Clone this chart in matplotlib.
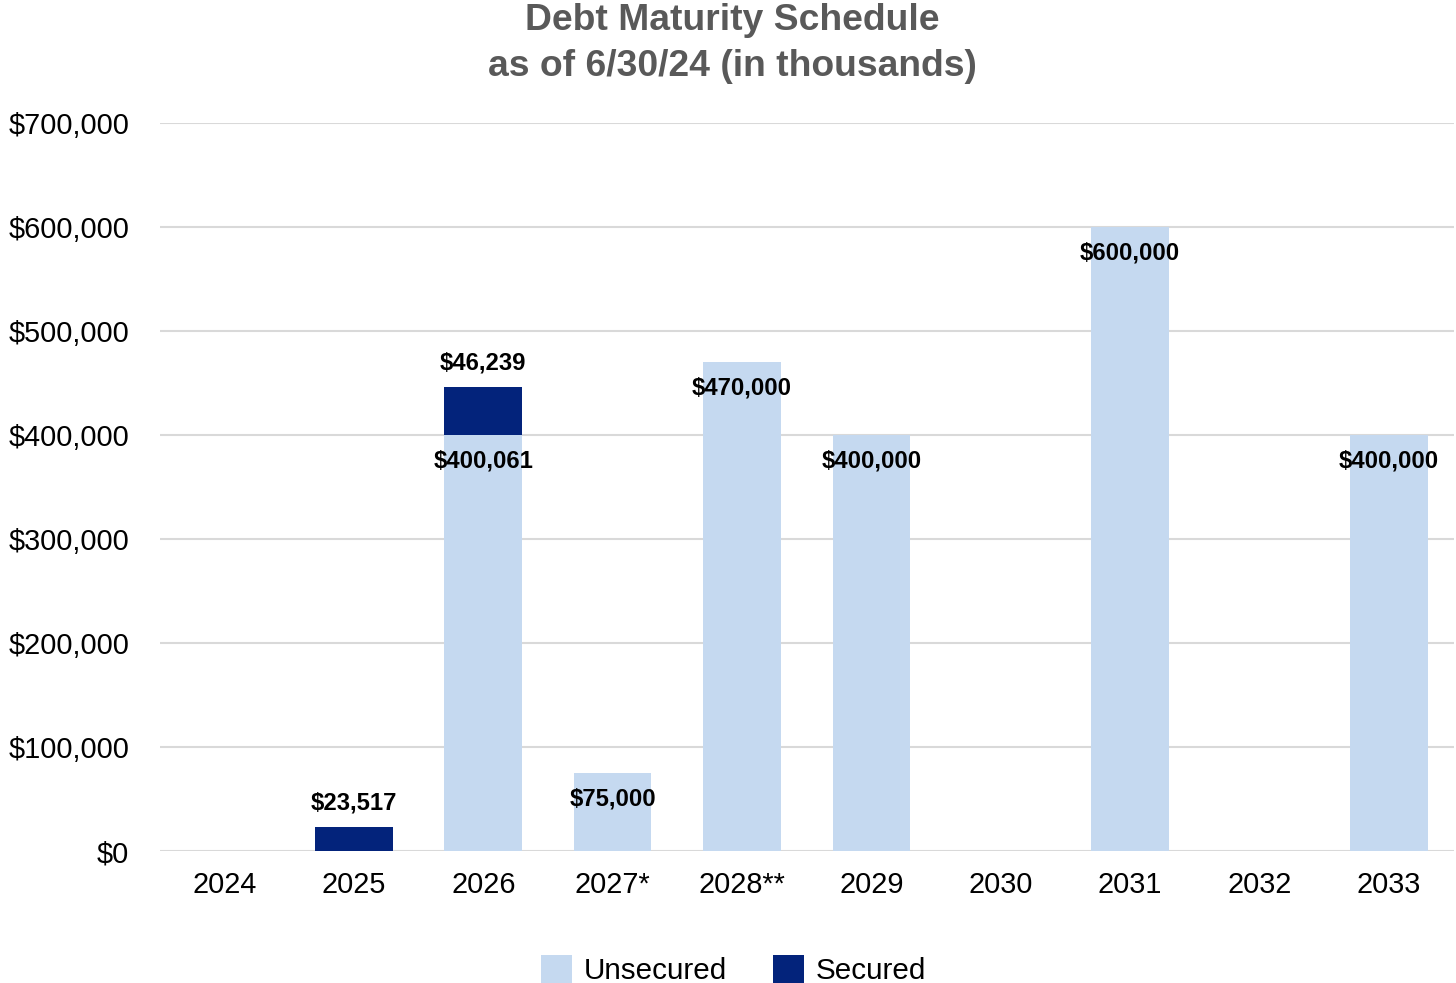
import matplotlib.pyplot as plt
import numpy as np

years = ['2024', '2025', '2026', '2027*', '2028**', '2029', '2030', '2031', '2032', '2033']
unsecured = [0, 0, 400061, 75000, 470000, 400000, 0, 600000, 0, 400000]
secured = [0, 23517, 46239, 0, 0, 0, 0, 0, 0, 0]

c_unsec = '#C5D9F0'
c_sec = '#03237B'

plt.rcParams['font.family'] = ['Liberation Sans', 'DejaVu Sans']

fig = plt.figure(figsize=(14.56, 9.83), dpi=100)
ax = fig.add_axes([0.1098, 0.134, 0.8885, 0.741])

x = np.arange(len(years))
unsec = np.array(unsecured)
sec = np.array(secured)

ax.bar(x, unsec, width=0.6, color=c_unsec, label='Unsecured', zorder=2)
ax.bar(x, sec, width=0.6, bottom=unsec, color=c_sec, label='Secured', zorder=2)

# labels: unsecured inside the top, secured above
for i in range(len(years)):
    if unsec[i] > 0:
        ax.annotate(f'${unsec[i]:,.0f}', (x[i], unsec[i]), xytext=(0, -18.5),
                    textcoords='offset points', ha='center', va='center',
                    fontsize=17.2, fontweight='bold', color='black', zorder=3)
    if sec[i] > 0:
        ax.annotate(f'${sec[i]:,.0f}', (x[i], unsec[i] + sec[i]), xytext=(0, 17),
                    textcoords='offset points', ha='center', va='center',
                    fontsize=17.2, fontweight='bold', color='black', zorder=3)

ax.set_xlim(-0.5, len(years) - 0.5)
ax.set_ylim(0, 700000)
ax.set_yticks(np.arange(0, 700001, 100000))
ax.set_yticklabels([f'${v:,.0f}' for v in np.arange(0, 700001, 100000)])
ax.set_xticks(x)
ax.set_xticklabels(years)
ax.tick_params(axis='y', length=0, pad=22, labelsize=20.8)
ax.tick_params(axis='x', length=0, pad=14.5, labelsize=20.8)
ax.grid(axis='y', color='#D9D9D9', linewidth=1.5, zorder=0)
ax.set_axisbelow(True)
for s in ax.spines.values():
    s.set_visible(False)

fig.text(0.503, 0.997, 'Debt Maturity Schedule\nas of 6/30/24 (in thousands)',
         ha='center', va='top', fontsize=26.8, fontweight='bold', color='#595959',
         linespacing=1.4)

fig.legend(loc='lower center', bbox_to_anchor=(0.504, -0.029), ncol=2, frameon=False,
           fontsize=21.3, handlelength=1.05, handleheight=1.05, columnspacing=1.55,
           handletextpad=0.4)

fig.savefig('out.png', dpi=100)
